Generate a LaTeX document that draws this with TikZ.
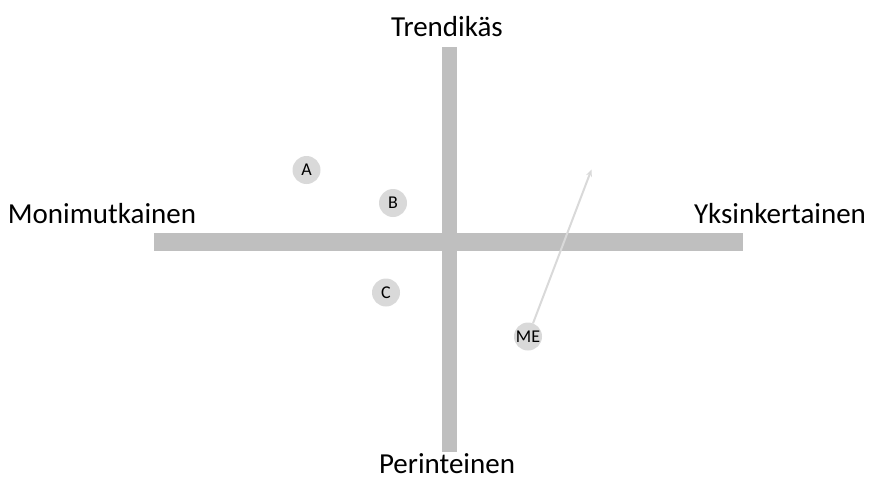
\documentclass[tikz,border=0pt]{standalone}
\usepackage{fontspec}
\setmainfont{Carlito}
\usetikzlibrary{arrows.meta}
\definecolor{bar}{HTML}{BFBFBF}
\definecolor{dot}{HTML}{D9D9D9}
\begin{document}
\begin{tikzpicture}[x=1pt,y=-1pt,
  axislabel/.style={font=\fontsize{29}{32}\selectfont, anchor=base, inner sep=0pt},
  dotnode/.style={circle, fill=dot, minimum size=28pt, inner sep=0pt, font=\fontsize{18}{20}\selectfont},
  barstyle/.style={fill=bar, draw=none}]
\useasboundingbox (0,0) rectangle (875,480);
\fill[barstyle] (154,233) rectangle (743,251);
\fill[barstyle] (442,47) rectangle (457,452);
\node[axislabel] (top) at (447,36) {Trendikäs};
\node[axislabel] (bottom) at (447,473) {Perinteinen};
\node[axislabel] (left) at (102,223) {Monimutkainen};
\node[axislabel] (right) at (780,223) {Yksinkertainen};
\node[dotnode] (A) at (306.5,170) {A};
\node[dotnode] (B) at (393,203) {B};
\node[dotnode] (C) at (386,292.5) {C};
\node[dotnode] (ME) at (528,336.5) {ME};
\coordinate (tip) at (591.5,169.5);
\draw[dot, line width=2pt, -{Stealth[length=7pt,width=6pt]}] (ME) -- (tip);
\end{tikzpicture}
\end{document}
